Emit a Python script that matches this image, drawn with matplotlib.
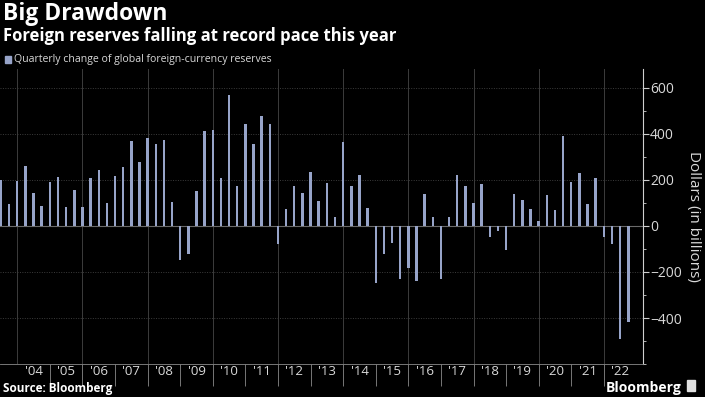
"""Big Drawdown: quarterly change of global FX reserves (Bloomberg style)."""

import matplotlib

matplotlib.use("Agg")
import matplotlib.pyplot as plt
from matplotlib.patches import Rectangle
from matplotlib.ticker import FixedLocator, MultipleLocator

plt.rcParams["font.family"] = ["Open Sans", "DejaVu Sans"]

# quarter-end positions, Q2 2003 .. Q3 2022 (year fractions)
first_quarter_end = 2003.5
changes = [
    200, 94, 195, 259, 143, 87, 190, 214, 83, 157, 82, 209,
    245, 99, 216, 255, 369, 280, 383, 355, 373, 102, -150, -122,
    152, 412, 415, 209, 569, 172, 445, 355, 476, 443, -77, 72,
    174, 144, 236, 107, 186, 39, 366, 173, 222, 80, -246, -120,
    -74, -229, -182, -239, 140, 39, -229, 39, 223, 174, 100, 183,
    -46, -20, -104, 137, 112, 73, 23, 133, 69, 393, 192, 232,
    97, 207, -50, -79, -489, -419,
]
quarter_ends = [first_quarter_end + 0.25 * i for i in range(len(changes))]
year_labels = ["'%02d" % (y % 100) for y in range(2004, 2023)]
year_centers = [y + 0.5 for y in range(2004, 2023)]
y_ticks = [-400, -200, 0, 200, 400, 600]

BG = "#000000"
BAR = "#97a4c9"
TXT = "#d9d9d9"
GRID = "#3c3c3c"

fig = plt.figure(figsize=(7.05, 3.97), dpi=100, facecolor=BG)
ax = fig.add_axes([0.0, 0.083, 0.912, 0.742], facecolor=BG)

ax.bar(quarter_ends, changes, width=0.075, color=BAR, zorder=3)

ax.set_xlim(2003.47, 2023.2)
ax.set_ylim(-600, 680)

# grid
for y in y_ticks:
    if y != 0:
        ax.axhline(y, color=GRID, lw=0.7, ls=(0, (1, 1.5)), zorder=1)
ax.axhline(0, color="#6a6a6a", lw=0.8, zorder=2)
for yr in range(2004, 2023, 2):
    ax.axvline(yr, color=GRID, lw=0.7, zorder=1)

# x axis: separators at year boundaries, labels mid-year
ax.xaxis.set_major_locator(FixedLocator(list(range(2005, 2023))))
ax.xaxis.set_minor_locator(FixedLocator(year_centers))
ax.xaxis.set_minor_formatter(plt.FixedFormatter(year_labels))
ax.xaxis.set_major_formatter(plt.NullFormatter())
ax.tick_params(axis="x", which="major", length=16, width=0.6, color="#8a8a8a")
ax.tick_params(axis="x", which="minor", length=0, pad=1, labelsize=9.5,
               labelcolor=TXT)

# y axis on the right
ax.yaxis.tick_right()
ax.yaxis.set_label_position("right")
ax.set_yticks(y_ticks)
ax.yaxis.set_minor_locator(MultipleLocator(100))
ax.tick_params(axis="y", which="major", length=4, width=0.8, color="#cfcfcf",
               labelsize=10, labelcolor=TXT, pad=1)
ax.tick_params(axis="y", which="minor", length=2, width=0.6, color="#cfcfcf")
ax.set_ylabel("Dollars (in billions)", rotation=270, labelpad=14,
              fontsize=11, color=TXT)

for side in ["top", "left"]:
    ax.spines[side].set_visible(False)
ax.spines["right"].set_color("#cfcfcf")
ax.spines["right"].set_linewidth(0.8)
ax.spines["bottom"].set_color("#8a8a8a")
ax.spines["bottom"].set_linewidth(0.6)

# titles and legend
fig.text(0.004, 0.995, "Big Drawdown", fontsize=16.5, fontweight="bold",
         color="white", va="top")
fig.text(0.004, 0.932, "Foreign reserves falling at record pace this year",
         fontsize=12, fontweight="bold", color="white", va="top")
fig.patches.append(Rectangle((0.007, 0.841), 0.009, 0.018, color=BAR,
                             transform=fig.transFigure, figure=fig))
fig.text(0.02, 0.851, "Quarterly change of global foreign-currency reserves",
         fontsize=7.6, color=TXT, va="center")

fig.text(0.004, 0.004, "Source: Bloomberg", fontsize=8.5, fontweight="bold",
         color="white", va="bottom")
fig.text(0.967, 0.006, "Bloomberg", fontsize=10, fontweight="bold",
         color="white", va="bottom", ha="right")
fig.patches.append(Rectangle((0.974, 0.014), 0.012, 0.03, color="#e0e0e0",
                             transform=fig.transFigure, figure=fig))

fig.savefig("out.png", dpi=100, facecolor=BG)
